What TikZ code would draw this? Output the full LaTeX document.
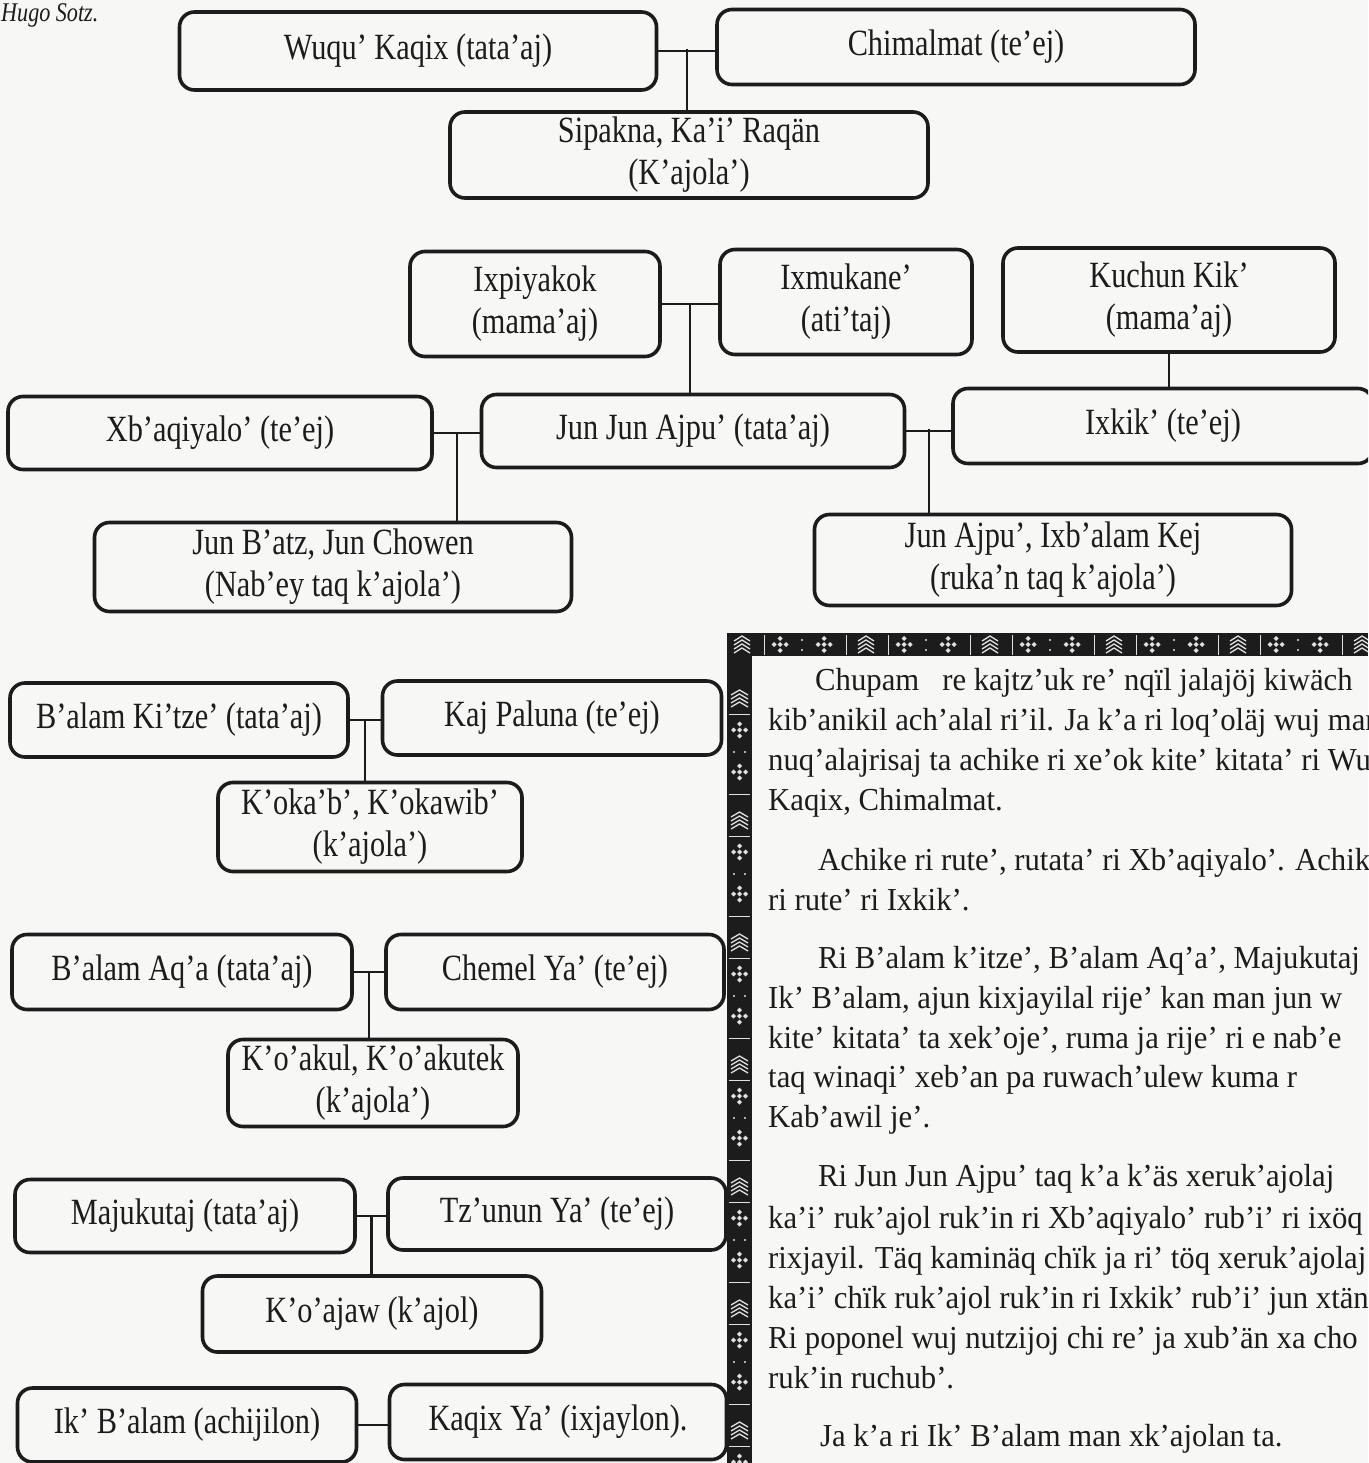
\documentclass[tikz,border=0pt]{standalone}
\usepackage{fontspec}
\setmainfont{Liberation Serif}
\newfontfamily\boxfont{Liberation Serif}[FakeStretch=0.82]
\newfontfamily\parafont{Liberation Serif}[FakeStretch=0.96]
\usepackage{tikz}
\usetikzlibrary{calc}
\definecolor{paper}{RGB}{247,247,246}
\definecolor{ink}{RGB}{28,28,28}
\definecolor{weave}{RGB}{225,225,225}

\begin{document}
\begin{tikzpicture}[x=1pt, y=-1pt,
    person/.style={draw=ink, line width=3.6pt, rounded corners=15pt, inner sep=0pt,
                   align=center, text=ink, font=\boxfont\fontsize{37}{42}\selectfont},
    link/.style={draw=ink, line width=2.4pt},
    paraline/.style={anchor=base west, inner sep=0pt, text=ink,
                     font=\parafont\fontsize{32}{40}\selectfont},
    thread/.style={draw=weave, line width=1.3pt}]
\path[use as bounding box, clip] (0,0) rectangle (1368,1463);
\fill[paper] (0,0) rectangle (1368,1463);

% credit line
\node[anchor=base west, inner sep=0pt, text=ink, font=\boxfont\itshape\fontsize{27}{30}\selectfont] (credit) at (1,22) {Hugo Sotz.};

% first family
\node[person, minimum width=477pt, minimum height=78pt] (wuqu) at (418,51) {Wuqu’ Kaqix (tata’aj)};
\node[person, minimum width=478pt, minimum height=75pt] (chimal) at (956,47) {Chimalmat (te’ej)};
\node[person, minimum width=478pt, minimum height=86pt] (sipakna) at (689,155) {Sipakna, Ka’i’ Raqän\\(K’ajola’)};

% grandparents
\node[person, minimum width=250pt, minimum height=105pt] (ixpi) at (535,304) {Ixpiyakok\\(mama’aj)};
\node[person, minimum width=252pt, minimum height=105pt] (ixmu) at (846,302) {Ixmukane’\\(ati’taj)};
\node[person, minimum width=332pt, minimum height=104pt] (kuchun) at (1169,300) {Kuchun Kik’\\(mama’aj)};

% parents
\node[person, minimum width=424pt, minimum height=73pt] (xbaq) at (220,433) {Xb’aqiyalo’ (te’ej)};
\node[person, minimum width=423pt, minimum height=73pt] (junjun) at (693,431) {Jun Jun Ajpu’ (tata’aj)};
\node[person, minimum width=420pt, minimum height=75pt] (ixkik) at (1163,426) {Ixkik’ (te’ej)};

% children
\node[person, minimum width=477pt, minimum height=89pt] (junbatz) at (333,567) {Jun B’atz, Jun Chowen\\(Nab’ey taq k’ajola’)};
\node[person, minimum width=477pt, minimum height=91pt] (junajpu) at (1053,560) {Jun Ajpu’, Ixb’alam Kej\\(ruka’n taq k’ajola’)};

% the four couples
\node[person, minimum width=338pt, minimum height=74pt] (bkitze) at (179,720) {B’alam Ki’tze’ (tata’aj)};
\node[person, minimum width=339pt, minimum height=74pt] (kajpal) at (552,718) {Kaj Paluna (te’ej)};
\node[person, minimum width=304pt, minimum height=89pt] (kokab) at (370,827) {K’oka’b’, K’okawib’\\(k’ajola’)};

\node[person, minimum width=340pt, minimum height=75pt] (baqa) at (182,972) {B’alam Aq’a (tata’aj)};
\node[person, minimum width=338pt, minimum height=75pt] (chemel) at (555,972) {Chemel Ya’ (te’ej)};
\node[person, minimum width=290pt, minimum height=87pt] (koakul) at (373,1083) {K’o’akul, K’o’akutek\\(k’ajola’)};

\node[person, minimum width=340pt, minimum height=73pt] (majuk) at (185,1216) {Majukutaj (tata’aj)};
\node[person, minimum width=338pt, minimum height=72pt] (tzunun) at (557,1214) {Tz’unun Ya’ (te’ej)};
\node[person, minimum width=339pt, minimum height=76pt] (koajaw) at (372,1314) {K’o’ajaw (k’ajol)};

\node[person, minimum width=339pt, minimum height=74pt] (ikbalam) at (187,1425) {Ik’ B’alam (achijilon)};
\node[person, minimum width=337pt, minimum height=75pt] (kaqix) at (558,1422) {Kaqix Ya’ (ixjaylon).};

% couple lines and child lines
\foreach \a/\b/\c in {wuqu/chimal/sipakna, ixpi/ixmu/junjun, xbaq/junjun/junbatz,
                      junjun/ixkik/junajpu, bkitze/kajpal/kokab, baqa/chemel/koakul,
                      majuk/tzunun/koajaw} {
  \draw[link] (\a.east) -- (\a.east -| \b.west);
  \path ($(\a.east)!0.5!(\b.west)$) coordinate (mid);
  \draw[link] (mid) -- (mid |- \c.north);
}
\draw[link] (kuchun.south) -- (kuchun.south |- ixkik.north);
\draw[link] (ikbalam.east) -- (ikbalam.east -| kaqix.west);

% woven border of the text block
\fill[ink] (727,633) rectangle (1368,656);
\fill[ink] (727,633) rectangle (752,1463);
% top band: fir motifs, dotted diamonds, pale stripes
\foreach \x in {742,866,...,1368} {
  \foreach \k in {0,4,8,12} {
    \draw[thread] (\x-8,641+\k) -- (\x,636+\k) -- (\x+8,641+\k);
  }
  \foreach \dx in {38,82} {
    \foreach \ox/\oy in {0/-6,6/0,0/6,-6/0,0/0} {
      \fill[weave] (\x+\dx+\ox,644.5+\oy) +(-2.5,0) -- +(0,-2.5) -- +(2.5,0) -- +(0,2.5) -- cycle;
    }
  }
  \draw[weave, line width=0.8pt] (\x+22,635) -- (\x+22,655) (\x+104,635) -- (\x+104,655);
  \fill[weave] (\x+60,640) circle (1.2pt) (\x+60,650) circle (1.2pt);
}
% left band: the same weave turned down the side
\foreach \y in {690,812,...,1463} {
  \foreach \k in {0,4,8,12} {
    \draw[thread] (731,\y+5+\k) -- (739.5,\y+\k) -- (748,\y+5+\k);
  }
  \foreach \dy in {40,82} {
    \foreach \ox/\oy in {0/-6,6/0,0/6,-6/0,0/0} {
      \fill[weave] (739.5+\ox,\y+\dy+\oy) +(-2.5,0) -- +(0,-2.5) -- +(2.5,0) -- +(0,2.5) -- cycle;
    }
  }
  \draw[weave, line width=0.8pt] (729,\y+24) -- (750,\y+24) (729,\y+104) -- (750,\y+104);
  \fill[weave] (734,\y+62) circle (1.2pt) (745,\y+62) circle (1.2pt);
}

% text of the page
\node[paraline] (t1) at (815,690) {Chupam \ \ re kajtz’uk re’ nqïl jalajöj kiwäch};
\node[paraline] (t2) at (768,730) {kib’anikil ach’alal ri’il. Ja k’a ri loq’oläj wuj man};
\node[paraline] (t3) at (768,770) {nuq’alajrisaj ta achike ri xe’ok kite’ kitata’ ri Wuqu’};
\node[paraline] (t4) at (768,810) {Kaqix, Chimalmat.};
\node[paraline] (t5) at (818,870) {Achike ri rute’, rutata’ ri Xb’aqiyalo’. Achike};
\node[paraline] (t6) at (768,910) {ri rute’ ri Ixkik’.};
\node[paraline] (t7) at (818,968) {Ri B’alam k’itze’, B’alam Aq’a’, Majukutaj};
\node[paraline] (t8) at (768,1008) {Ik’ B’alam, ajun kixjayilal rije’ kan man jun w};
\node[paraline] (t9) at (768,1048) {kite’ kitata’ ta xek’oje’, ruma ja rije’ ri e nab’e};
\node[paraline] (t10) at (768,1087) {taq winaqi’ xeb’an pa ruwach’ulew kuma r};
\node[paraline] (t11) at (768,1127) {Kab’awil je’.};
\node[paraline] (t12) at (818,1186) {Ri Jun Jun Ajpu’ taq k’a k’äs xeruk’ajolaj};
\node[paraline] (t13) at (768,1228) {ka’i’ ruk’ajol ruk’in ri Xb’aqiyalo’ rub’i’ ri ixöq};
\node[paraline] (t14) at (768,1268) {rixjayil. Täq kaminäq chïk ja ri’ töq xeruk’ajolaj};
\node[paraline] (t15) at (768,1308) {ka’i’ chïk ruk’ajol ruk’in ri Ixkik’ rub’i’ jun xtän};
\node[paraline] (t16) at (768,1348) {Ri poponel wuj nutzijoj chi re’ ja xub’än xa cho};
\node[paraline] (t17) at (768,1388) {ruk’in ruchub’.};
\node[paraline] (t18) at (820,1446) {Ja k’a ri Ik’ B’alam man xk’ajolan ta.};
\end{tikzpicture}
\end{document}
